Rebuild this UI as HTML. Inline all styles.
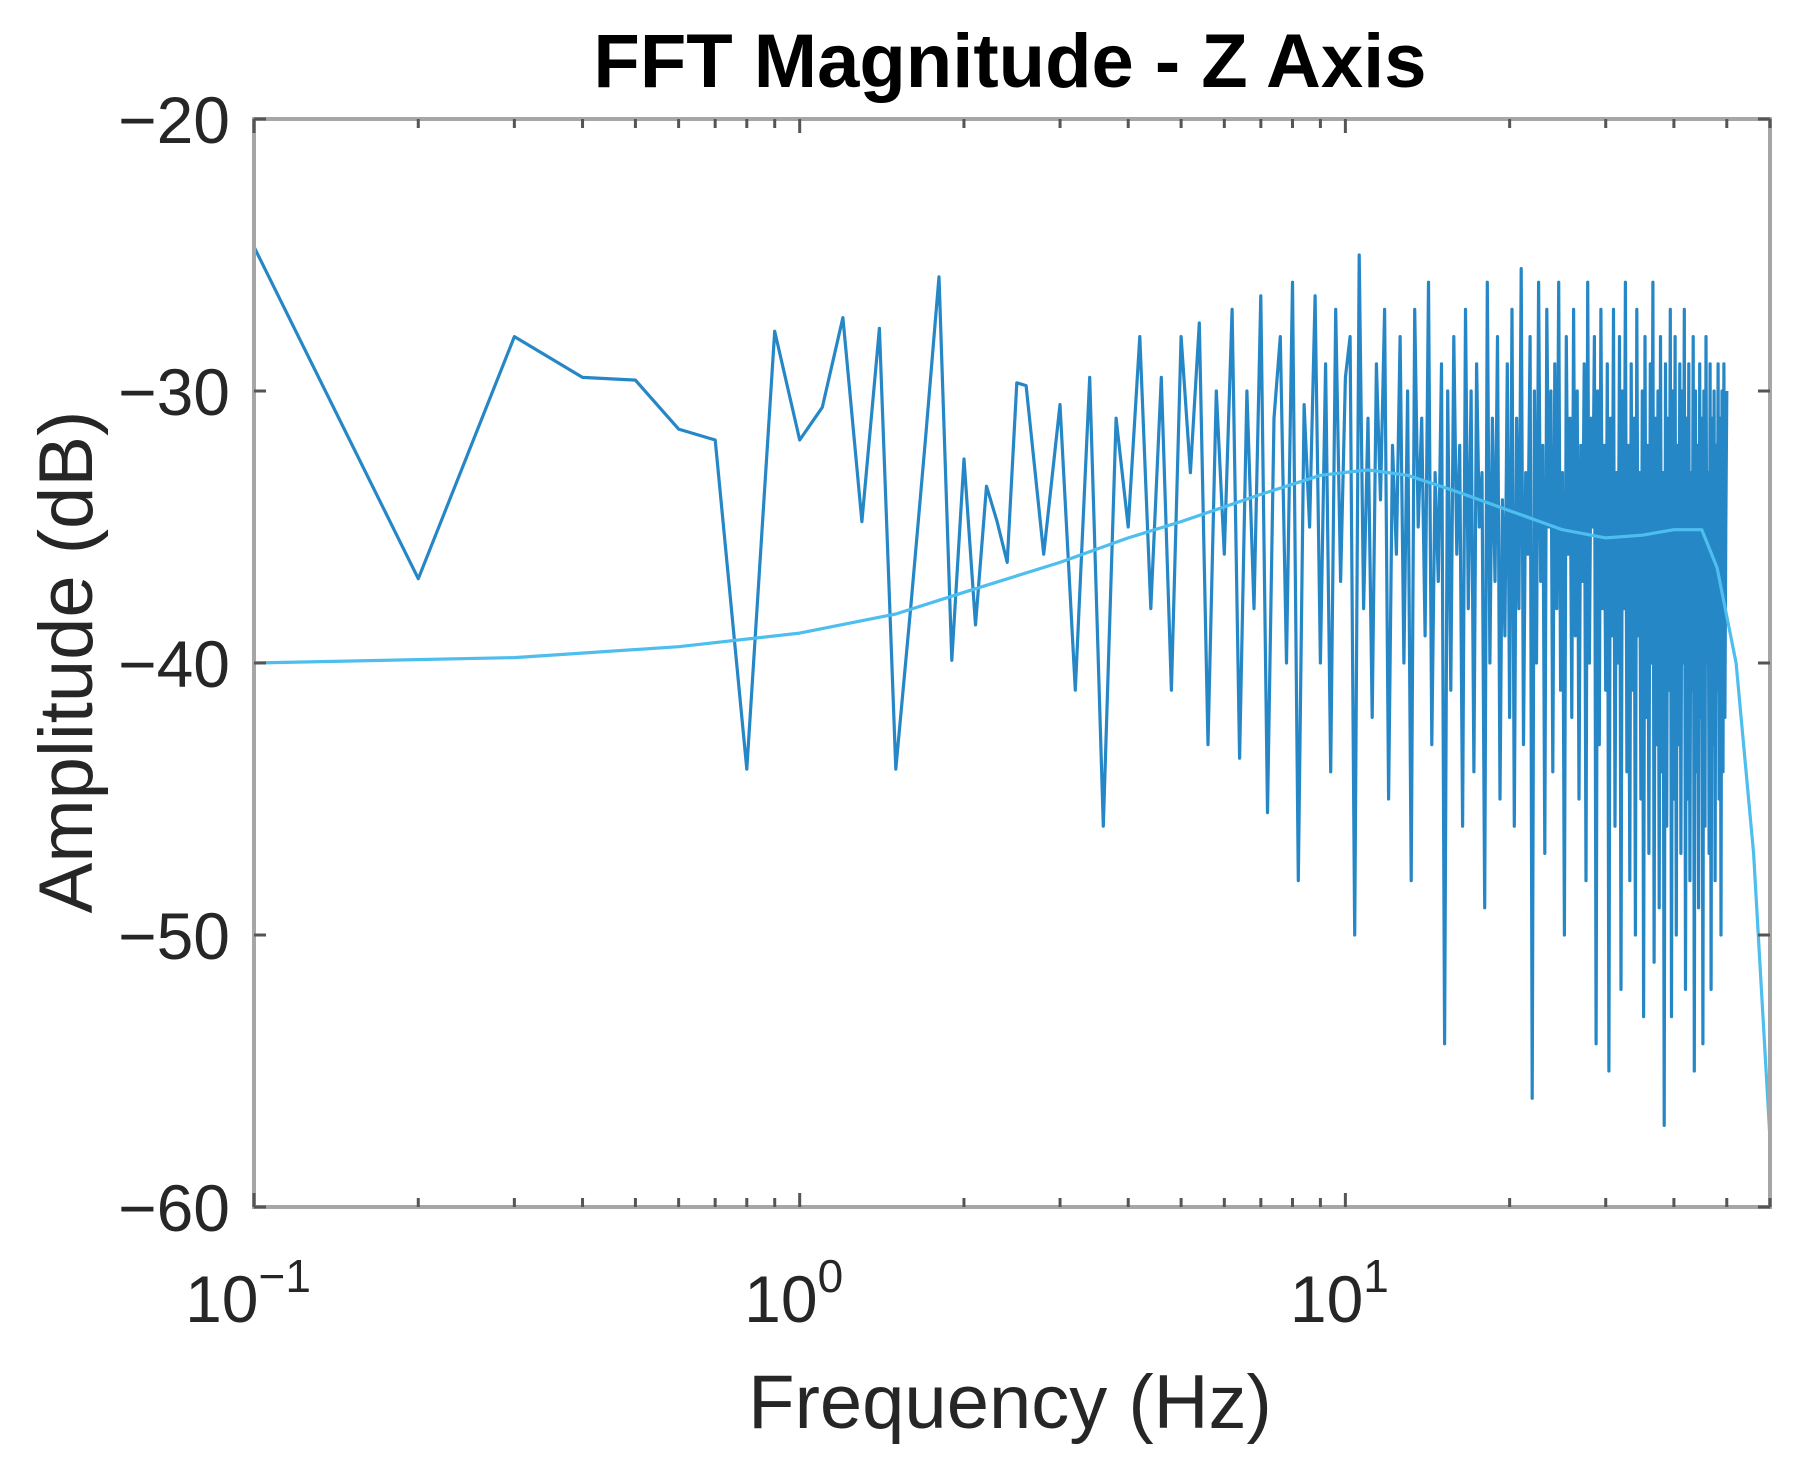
<!DOCTYPE html>
<html><head><meta charset="utf-8"><style>
html,body{margin:0;padding:0;background:#fff;}
svg{display:block;font-family:"Liberation Sans",Arial,sans-serif;}
</style></head><body>
<svg id="chart" width="1818" height="1477" viewBox="0 0 1818 1477">
<text x="1010" y="87" text-anchor="middle" font-size="76" font-weight="bold" fill="#000">FFT Magnitude - Z Axis</text>
<g id="plot"></g>
<text x="1010" y="1428" text-anchor="middle" font-size="76" fill="#262626">Frequency (Hz)</text>
<text transform="translate(92,662) rotate(-90)" text-anchor="middle" font-size="76" fill="#262626">Amplitude (dB)</text>
</svg>
<script>
const yTicks = [-20, -30, -40, -50, -60];
const yTickLabels = ["\u221220", "\u221230", "\u221240", "\u221250", "\u221260"];
const xTickExps = [-1, 0, 1];
const lowStart = 0.1, lowStep = 0.1;
const lowVals = [-24.7,-36.9,-28.0,-29.5,-29.6,-31.4,-31.8,-43.9,-27.8,-31.8,-30.6,-27.3,-34.8,-27.7,-43.9,-37.8,-31.8,-25.8,-39.9,-32.5,-38.6,-33.5,-34.8,-36.3,-29.7];
const highStart = 2.6, highStep = 0.2;
const highVals = [-29.8,-36,-30.5,-41,-29.5,-46,-31,-35,-28,-38,-29.5,-41,-28,
-33,-27.5,-43,-30,-36,-27,-43.5,-30,-38,-26.5,-45.5,-31,-28,-40,-26,-48,-30.5,-35,-26.5,-40,-29,-44,-27,-37,-29.5,
-28,-50,-25,-38,-31,-42,-29,-34,-27,-45,-32,-36,-28,-40,-30,-48,-27,-35,-31,-39,-26,-43,-33,-37,-29,-54,-30,-41,-28,-36,-32,-46,-27,-38,-30,-44,-29,-35,-33,-49,-26,-40,-31,-37,-28,-45,-34,-39,-29,-42,
-27,-46,-31,-38,-25.5,-43,-33,-36,-28,-56,-30,-40,-26,-37,-32,-47,-27,-35,-30,-44,-29,-38,-26,-41,-33,-50,-28,-36,-31,-42,-27,-39,-30,-45,-32,-37,-29,-48,-26,-40,-31,-35,-28,-54,-30,-43,-27,-38,-32,-41,
-29,-55,-31,-39,-27,-46,-33,-40,-28,-52,-30,-38,-26,-44,-32,-48,-29,-41,-31,-50,-27,-39,-33,-45,-30,-53,-28,-42,-32,-47,-29,-40,-26,-51,-31,-43,-30,-49,-28,-44,-33,-57,-29,-46,-31,-41,-27,-53,-30,-45,
-28,-50,-32,-43,-29,-47,-30,-40,-27,-52,-31,-45,-29,-48,-33,-41,-28,-55,-30,-44,-32,-49,-29,-42,-31,-54,-30,-46,-28,-40,-33,-47,-29,-52,-31,-43,-30,-48,-32,-41,-29,-45,-31,-50,-30,-44,-29,-42,-35,-30];
const smoothFreqs = [0.1,0.3,0.6,1,1.5,2,3,4,5,7,9,11,13,16,20,25,30,35,40,45,48,52,56,60];
const smoothVals = [-40,-39.8,-39.4,-38.9,-38.2,-37.4,-36.3,-35.4,-34.8,-33.8,-33.1,-32.9,-33.1,-33.7,-34.4,-35.1,-35.4,-35.3,-35.1,-35.1,-36.5,-40,-47,-57.5];

const L=254,R=1770,T=119,B=1207, xMin=0.1, xMax=60, yMin=-60, yMax=-20;
const NS="http://www.w3.org/2000/svg";
const g=document.getElementById('plot');
function xs(f){return L+(Math.log10(f)-Math.log10(xMin))/(Math.log10(xMax)-Math.log10(xMin))*(R-L);}
function ys(v){return B-(v-yMin)/(yMax-yMin)*(B-T);}
function mk(t,a){const e=document.createElementNS(NS,t);for(const k in a)e.setAttribute(k,a[k]);g.appendChild(e);return e;}

const pts=[];
lowVals.forEach((v,i)=>pts.push([lowStart+i*lowStep,v]));
highVals.forEach((v,i)=>pts.push([highStart+i*highStep,v]));
const main=mk('polyline',{points:pts.map(p=>xs(p[0]).toFixed(1)+','+ys(p[1]).toFixed(1)).join(' '),fill:'none',stroke:'#0072BD','stroke-width':3.2,'stroke-linejoin':'round','stroke-opacity':0.85});



const sm=mk('polyline',{points:smoothFreqs.map((f,i)=>xs(f).toFixed(1)+','+ys(smoothVals[i]).toFixed(1)).join(' '),fill:'none',stroke:'#4DBEEE','stroke-width':3.2,'stroke-linejoin':'round'});



const box=mk('rect',{x:L,y:T,width:R-L,height:B-T,fill:'none',stroke:'#A6A6A6','stroke-width':4});



yTicks.forEach((v,i)=>{
  const y=ys(v);
  mk('line',{x1:L,x2:L+12,y1:y,y2:y,stroke:'#555','stroke-width':3});
  mk('line',{x1:R,x2:R-12,y1:y,y2:y,stroke:'#555','stroke-width':3});
  const t=mk('text',{x:L-24,y:y+24,'text-anchor':'end','font-size':66,fill:'#262626'});
  t.textContent=yTickLabels[i];
  
  
});
for(let e=-1;e<=1;e++){for(let m=1;m<=9;m++){const f=m*Math.pow(10,e);if(f>xMax)break;const x=xs(f);const len=m===1?14:9;
  mk('line',{x1:x,x2:x,y1:B,y2:B-len,stroke:'#555','stroke-width':3});
  mk('line',{x1:x,x2:x,y1:T,y2:T+len,stroke:'#555','stroke-width':3});}}
xTickExps.forEach(e=>{
  const x=xs(Math.pow(10,e));
  const t=mk('text',{x:x-6,y:1322,'text-anchor':'middle','font-size':66,fill:'#262626'});
  t.textContent='10';
  const s=document.createElementNS(NS,'tspan');s.setAttribute('dy','-30');s.setAttribute('font-size','46');
  s.textContent=e<0?'\u2212'+(-e):String(e);t.appendChild(s);
  
  
});
</script>
</body></html>
